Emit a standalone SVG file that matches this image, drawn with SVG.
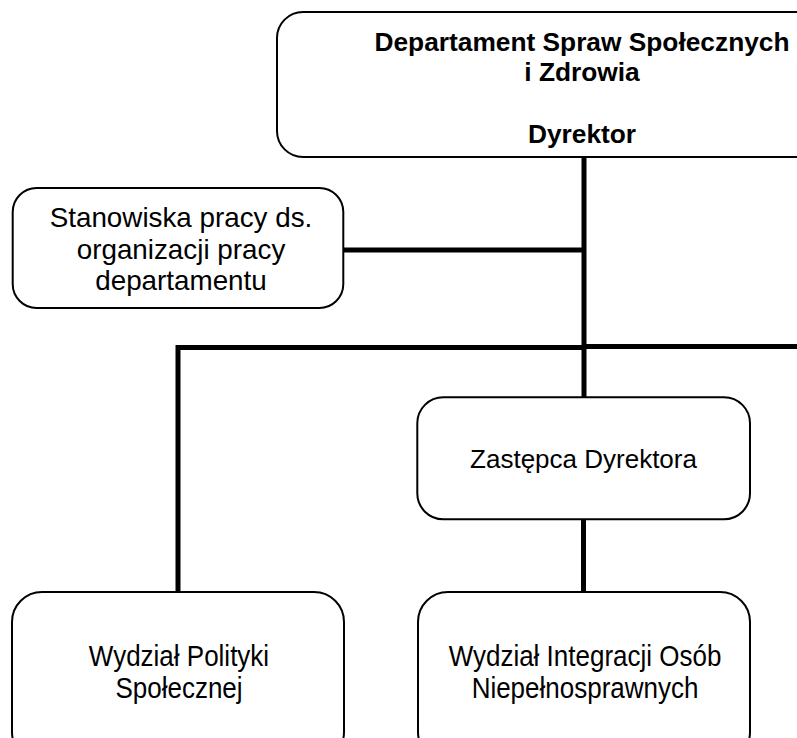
<svg xmlns="http://www.w3.org/2000/svg" width="797" height="738" viewBox="0 0 797 738">
<style>
.box{fill:#fff;stroke:#000;stroke-width:2}
.ln{stroke:#000;stroke-width:5;fill:none}
.t{font-family:"Liberation Sans",Arial,sans-serif;font-size:26px;fill:#000;text-anchor:middle}
.b{font-weight:bold;font-size:26.3px}
.s{font-size:27.8px}
</style>
<rect width="797" height="738" fill="#fff"/>
<g id="connectors">
<line class="ln" x1="584" y1="157" x2="584" y2="398"/>
<line class="ln" x1="343" y1="250" x2="584" y2="250"/>
<line class="ln" x1="176" y1="347.5" x2="584" y2="347.5"/>
<line class="ln" x1="584" y1="346.5" x2="797" y2="346.5"/>
<line class="ln" x1="178" y1="345" x2="178" y2="593"/>
<line class="ln" x1="583.5" y1="519" x2="583.5" y2="593"/>
</g>
<g id="dyrektor">
<rect class="box" x="277" y="12" width="612" height="145" rx="26"/>
<text class="t b" x="582" y="51">Departament Spraw Społecznych</text>
<text class="t b" x="582" y="81">i Zdrowia</text>
<text class="t b" x="582" y="143">Dyrektor</text>
</g>
<g id="stanowiska">
<rect class="box" x="12.7" y="188" width="330.6" height="120" rx="24"/>
<text class="t s" x="181" y="227">Stanowiska pracy ds.</text>
<text class="t s" x="181" y="259">organizacji pracy</text>
<text class="t s" x="181" y="290">departamentu</text>
</g>
<g id="zastepca">
<rect class="box" x="417.3" y="397.3" width="332.7" height="122" rx="26"/>
<text class="t" x="583.5" y="468">Zastępca Dyrektora</text>
</g>
<g id="wydzial-polityki">
<rect class="box" x="12" y="592" width="332" height="170" rx="30"/>
<text class="t" transform="translate(179,666) scale(1,1.15)">Wydział Polityki</text>
<text class="t" transform="translate(179,698) scale(1,1.15)">Społecznej</text>
</g>
<g id="wydzial-integracji">
<rect class="box" x="418" y="592" width="332" height="170" rx="30"/>
<text class="t" transform="translate(585,666) scale(1,1.15)">Wydział Integracji Osób</text>
<text class="t" transform="translate(585,698) scale(1,1.15)">Niepełnosprawnych</text>
</g>
</svg>
